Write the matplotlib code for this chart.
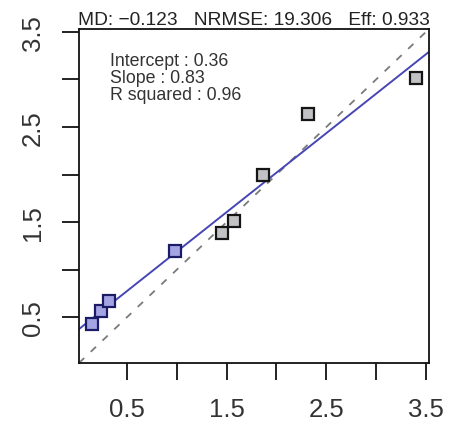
import matplotlib
matplotlib.use("Agg")
import matplotlib.pyplot as plt
import numpy as np

plt.rcParams['font.family'] = ['Liberation Sans', 'DejaVu Sans']

# Data (observed x, predicted y), two groups
obs_a = [0.15, 0.24, 0.32, 0.98]
pred_a = [0.43, 0.57, 0.67, 1.20]
obs_b = [1.45, 1.57, 1.87, 2.32, 3.40]
pred_b = [1.39, 1.51, 2.00, 2.64, 3.01]

intercept = 0.36
slope = 0.83
r_squared = 0.96
title_text = "MD: \u22120.123   NRMSE: 19.306   Eff: 0.933"

tick_values = [0.5, 1.0, 1.5, 2.0, 2.5, 3.0, 3.5]
tick_labels = ["0.5", "", "1.5", "", "2.5", "", "3.5"]

fig = plt.figure(figsize=(4.5, 4.27), dpi=100)
ax = fig.add_axes([79/450, 63/427, 350/450, 334/427])

allv = np.array(obs_a + obs_b)
lo, hi = allv.min(), allv.max()
pad = 0.04 * (hi - lo)
ax.set_xlim(lo - pad, hi + pad)
ax.set_ylim(lo - pad, hi + pad)

ax.axline((0, 0), slope=1, color="#7a7a7a", lw=1.3, ls=(0, (4, 5)), zorder=1)
ax.axline((0, intercept), slope=slope, color="#4646b4", lw=1.4, zorder=2)

ax.plot(obs_b, pred_b, ls="none", marker="s", ms=8.5, mfc="#c2c2c6",
        mec="#151515", mew=1.6, zorder=3)
ax.plot(obs_a, pred_a, ls="none", marker="s", ms=8.5, mfc="#a4a4e4",
        mec="#1c1c66", mew=1.6, zorder=3)

ax.set_xticks(tick_values)
ax.set_xticklabels(tick_labels)
ax.set_yticks(tick_values)
ax.set_yticklabels(tick_labels, rotation=90, va="center")
ax.tick_params(axis="both", length=12.5, width=1.3, labelsize=18.5,
               colors="#111111", labelcolor="#333333")
ax.tick_params(axis="x", pad=12)
ax.tick_params(axis="y", pad=12)
for s in ax.spines.values():
    s.set_linewidth(1.3)
    s.set_color("#111111")

fig.text(254 / 450, 1 - 25 / 427, title_text, ha="center",
         va="baseline", fontsize=13.8, color="#222222")

ax.text(0.0886, 0.93,
        f"Intercept : {intercept:.2f}\nSlope : {slope:.2f}\nR squared : {r_squared:.2f}",
        transform=ax.transAxes, ha="left", va="top", fontsize=12.8,
        linespacing=0.98, color="#333333")

fig.savefig("out.png", dpi=100)
